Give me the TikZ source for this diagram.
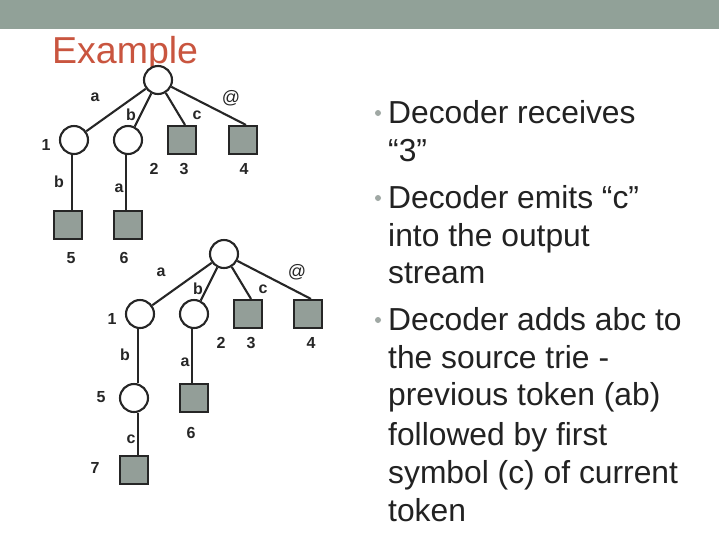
\documentclass[tikz,border=0pt]{standalone}
\usepackage{fontspec}
\setmainfont{Liberation Sans}
\definecolor{barc}{HTML}{91A198}
\definecolor{sqc}{HTML}{939E98}
\definecolor{titlec}{HTML}{C9553F}
\definecolor{textc}{HTML}{222222}
\definecolor{bulc}{HTML}{A0A8A4}
\begin{document}
\begin{tikzpicture}[x=1pt,y=-1pt,
  inode/.style={circle,draw=black!85,line width=2.1pt,fill=white,minimum size=28pt,inner sep=0pt},
  leaf/.style={rectangle,draw=black!85,line width=2.1pt,fill=sqc,minimum size=28pt,inner sep=0pt},
  edge/.style={draw=black!85,line width=2.1pt},
  lbl/.style={font=\fontsize{16}{18}\selectfont\bfseries,text=black!85,inner sep=0pt},
  atl/.style={font=\fontsize{18}{18}\selectfont,text=black!85,inner sep=0pt},
  body/.style={anchor=base west,font=\fontsize{31.8}{38}\selectfont,text=textc,inner sep=0pt},
  bul/.style={circle,fill=bulc,minimum size=6pt,inner sep=0pt}]
\useasboundingbox (0,0) rectangle (719,539);
\fill[white] (0,0) rectangle (719,539);
\fill[barc] (0,0) rectangle (719,29);
\node[anchor=base west,inner sep=0pt,text=titlec,font=\fontsize{37.5}{40}\selectfont] (title) at (52,63.5) {Example};

% ---- tree 1 ----
\node[inode] (r1) at (158,80) {};
\node[inode] (a1) at (74,140) {};
\node[inode] (b1) at (128,140) {};
\node[leaf] (c1) at (182,140) {};
\node[leaf] (d1) at (243,140) {};
\node[leaf] (e1) at (68,225) {};
\node[leaf] (f1) at (128,225) {};
\draw[edge] (r1) -- (a1);
\draw[edge] (r1) -- (b1);
\draw[edge] (r1) -- ([xshift=3pt]c1.north);
\draw[edge] (r1) -- ([xshift=3pt]d1.north);
\draw[edge] ([xshift=-2pt]a1.south) -- ([xshift=4pt]e1.north);
\draw[edge] ([xshift=-2pt]b1.south) -- ([xshift=-2pt]f1.north);
\node[lbl] (la1) at (95,97) {a};
\node[lbl] (lb1) at (131,115) {b};
\node[lbl] (lc1) at (197,115) {c};
\node[atl] (ld1) at (231,98) {@};
\node[lbl] (n11) at (46,145) {1};
\node[lbl] (n21) at (154,169) {2};
\node[lbl] (n31) at (184,169) {3};
\node[lbl] (n41) at (244,169) {4};
\node[lbl] (le1) at (59,182) {b};
\node[lbl] (lf1) at (119,188) {a};
\node[lbl] (n51) at (71,258) {5};
\node[lbl] (n61) at (124,258) {6};

% ---- tree 2 ----
\node[inode] (r2) at (224,254) {};
\node[inode] (a2) at (140,314) {};
\node[inode] (b2) at (194,314) {};
\node[leaf] (c2) at (248,314) {};
\node[leaf] (d2) at (308,314) {};
\node[inode] (e2) at (134,398) {};
\node[leaf] (f2) at (194,398) {};
\node[leaf] (g2) at (134,470) {};
\draw[edge] (r2) -- (a2);
\draw[edge] (r2) -- (b2);
\draw[edge] (r2) -- ([xshift=3pt]c2.north);
\draw[edge] (r2) -- ([xshift=3pt]d2.north);
\draw[edge] ([xshift=-2pt]a2.south) -- ([xshift=4pt]e2.north);
\draw[edge] ([xshift=-2pt]b2.south) -- ([xshift=-2pt]f2.north);
\draw[edge] ([xshift=4pt]e2.south) -- ([xshift=4pt]g2.north);
\node[lbl] (la2) at (161,272) {a};
\node[lbl] (lb2) at (198,289) {b};
\node[lbl] (lc2) at (263,289) {c};
\node[atl] (ld2) at (297,272) {@};
\node[lbl] (n12) at (112,319) {1};
\node[lbl] (n22) at (221,343) {2};
\node[lbl] (n32) at (251,343) {3};
\node[lbl] (n42) at (311,343) {4};
\node[lbl] (le2) at (125,355) {b};
\node[lbl] (lf2) at (185,362) {a};
\node[lbl] (n52) at (101,397) {5};
\node[lbl] (n62) at (191,433) {6};
\node[lbl] (lg2) at (131,439) {c};
\node[lbl] (n72) at (95,468) {7};

% ---- bullets ----
\node[bul] (b1d) at (378,113) {};
\node[bul] (b2d) at (378,198) {};
\node[bul] (b3d) at (378,320) {};
\node[body] (t1) at (388,123.3) {Decoder receives};
\node[body] (t2) at (388,161.7) {“3”};
\node[body] (t3) at (388,208.3) {Decoder emits “c”};
\node[body] (t4) at (388,246.7) {into the output};
\node[body] (t5) at (388,283.3) {stream};
\node[body] (t6) at (388,330) {Decoder adds abc to};
\node[body] (t7) at (388,368) {the source trie -};
\node[body] (t8) at (388,405) {previous token (ab)};
\node[body] (t9) at (388,445) {followed by first};
\node[body] (t10) at (388,483) {symbol (c) of current};
\node[body] (t11) at (388,521.7) {token};
\end{tikzpicture}
\end{document}
